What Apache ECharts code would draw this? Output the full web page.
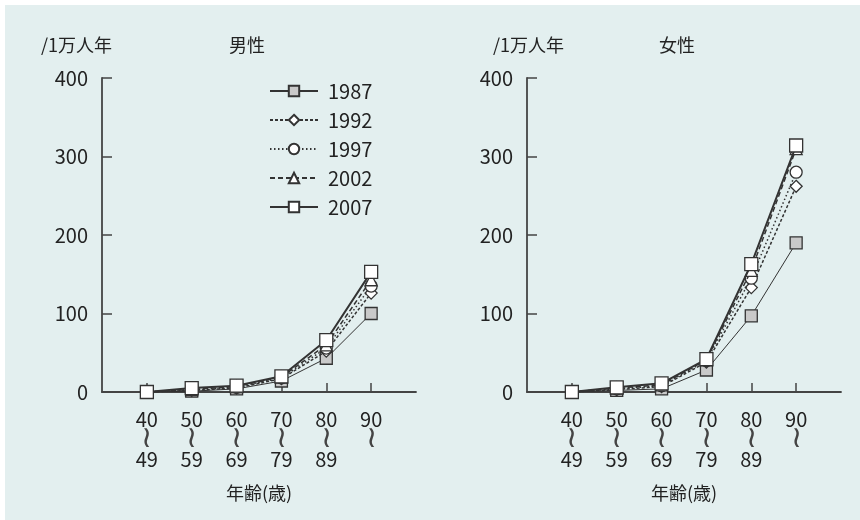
<!DOCTYPE html>
<html>
<head>
<meta charset="utf-8">
<script src="https://cdn.jsdelivr.net/npm/echarts@6/dist/echarts.min.js"></script>
<style>
html,body{margin:0;padding:0;background:#fff;}
#bg{position:absolute;left:5px;top:5px;right:0;bottom:0;background:#e3efef;}
#chart{position:absolute;left:0;top:0;width:860px;height:520px;}
</style>
</head>
<body>
<div id="bg"></div>
<div id="chart"></div>
<script>
// age groups (tick labels): start / end of each band
const ageStart = ['40', '50', '60', '70', '80', '90'];
const ageEnd   = ['49', '59', '69', '79', '89', ''];
const years = ['1987', '1992', '1997', '2002', '2007'];
const yTicks = [0, 100, 200, 300, 400];

// incidence per 10,000 person-years, male
const male1987 = [0, 1, 4, 14, 43, 100];
const male1992 = [0, 2, 5, 17, 52, 126];
const male1997 = [0, 3, 6, 18, 56, 135];
const male2002 = [0, 3, 7, 19, 60, 143];
const male2007 = [0, 5, 8, 20, 66, 153];
// female
const female1987 = [0, 2, 4, 28, 97, 190];
const female1992 = [0, 3, 7, 38, 133, 262];
const female1997 = [0, 4, 8, 40, 145, 280];
const female2002 = [0, 5, 9, 41, 155, 310];
const female2007 = [0, 6, 11, 42, 163, 314];

const maleData = [male1987, male1992, male1997, male2002, male2007];
const femaleData = [female1987, female1992, female1997, female2002, female2007];

const FONT = '"Noto Sans CJK JP", "Noto Sans", sans-serif';
const DARK = '#333';

const styles = [
  {symbol: 'rect', size: 12, fill: '#c9c9c9', line: {width: 1, type: 'solid'}},
  {symbol: 'diamond', size: 12, fill: '#fff', line: {width: 1.5, type: [3, 2]}},
  {symbol: 'circle', size: 12, fill: '#fff', line: {width: 1.5, type: [1.5, 2.5]}},
  {symbol: 'triangle', size: 12, fill: '#fff', line: {width: 1.5, type: [5, 3]}},
  {symbol: 'rect', size: 13, fill: '#fff', line: {width: 2, type: 'solid'}}
];

const cats = [''].concat(ageStart).concat(['']);

function xAxis(gridIndex) {
  return {
    type: 'category', gridIndex: gridIndex, data: cats, boundaryGap: false,
    axisLine: {lineStyle: {color: '#444', width: 1.8}},
    axisTick: {inside: true, length: 9, lineStyle: {color: '#444', width: 1.5},
      interval: function (i) { return i > 0 && i < cats.length - 1; }},
    axisLabel: {
      interval: 0, margin: 17, color: '#222', fontFamily: FONT, fontSize: 20, lineHeight: 20,
      formatter: function (v) {
        if (!v) return '';
        const k = ageStart.indexOf(v);
        return '{n|' + v + '}\n{w|≀}\n{n|' + ageEnd[k] + '}';
      },
      rich: {
        n: {fontFamily: FONT, fontSize: 20, lineHeight: 20, color: '#222'},
        w: {fontFamily: '"DejaVu Sans Light", "DejaVu Sans", sans-serif', fontWeight: 200, fontSize: 30, lineHeight: 20, color: '#444'}
      }
    },
    name: '年齢(歳)', nameLocation: 'middle', nameGap: 92,
    nameTextStyle: {color: '#222', fontFamily: FONT, fontSize: 18},
    splitLine: {show: false}
  };
}
function yAxis(gridIndex) {
  return {
    type: 'value', gridIndex: gridIndex, min: yTicks[0], max: yTicks[yTicks.length - 1], interval: 100,
    axisLine: {show: true, lineStyle: {color: '#444', width: 1.8}},
    axisTick: {show: true, inside: true, length: 10, lineStyle: {color: '#444', width: 1.5}},
    axisLabel: {color: '#222', fontFamily: FONT, fontSize: 20, margin: 14},
    splitLine: {show: false}
  };
}

const series = [];
[maleData, femaleData].forEach(function (set, g) {
  set.forEach(function (vals, s) {
    const st = styles[s];
    series.push({
      type: 'line', name: years[s], xAxisIndex: g, yAxisIndex: g,
      data: [null].concat(vals),
      symbol: st.symbol, symbolSize: st.size,
      lineStyle: {color: DARK, width: st.line.width, type: st.line.type},
      itemStyle: {color: st.fill, borderColor: DARK, borderWidth: 1.3},
      emphasis: {disabled: true}, animation: false, z: 2 + s
    });
  });
});

const titleStyle = {fontFamily: FONT, fontSize: 18, fontWeight: 'normal', color: '#222'};
const chart = echarts.init(document.getElementById('chart'), null, {renderer: 'canvas'});
chart.setOption({
  backgroundColor: 'transparent',
  animation: false,
  title: [
    {text: '/1万人年', left: 36, top: 31, textStyle: titleStyle},
    {text: '男性', left: 224, top: 31, textStyle: titleStyle},
    {text: '/1万人年', left: 488, top: 31, textStyle: titleStyle},
    {text: '女性', left: 654, top: 31, textStyle: titleStyle}
  ],
  legend: {
    data: years, orient: 'vertical', left: 264, top: 76,
    itemWidth: 48, itemHeight: 13, itemGap: 9,
    textStyle: {fontFamily: FONT, fontSize: 20, color: '#222', lineHeight: 18, padding: [0, 0, 0, 5]},
    selectedMode: false
  },
  grid: [
    {left: 102, top: 78, width: 314, height: 314},
    {left: 527, top: 78, width: 314, height: 314}
  ],
  xAxis: [xAxis(0), xAxis(1)],
  yAxis: [yAxis(0), yAxis(1)],
  series: series
});
</script>
</body>
</html>
